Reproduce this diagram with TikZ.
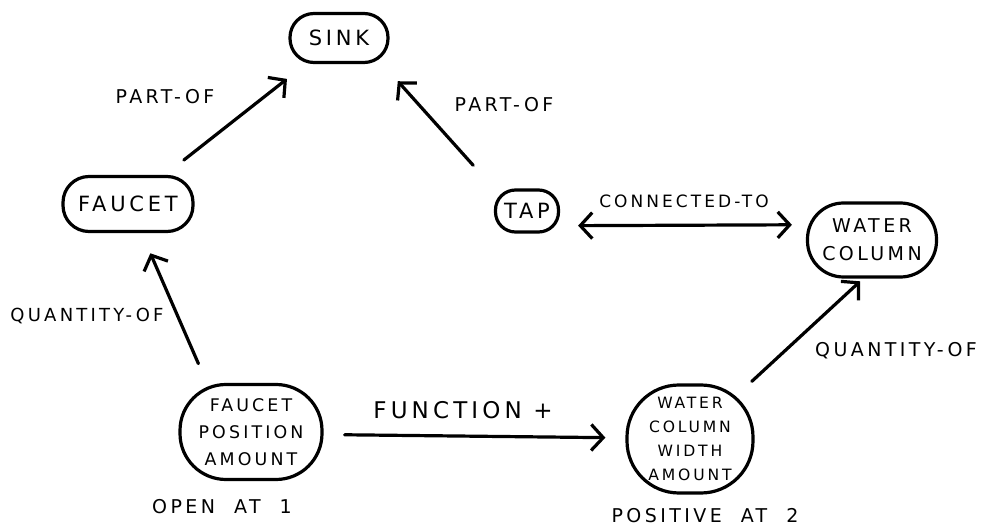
\documentclass[tikz,border=0pt]{standalone}
\usepackage{fontspec}
\setmainfont[LetterSpace=18]{DejaVu Sans}
\usetikzlibrary{arrows.meta}

\begin{document}
\begin{tikzpicture}[x=0.5pt, y=-0.5pt, line join=round, line cap=round, line width=1.6pt,
  blob/.style n args={3}{draw, rectangle, inner sep=0pt, align=center,
    minimum width=#1, minimum height=#2, rounded corners=#3,
    font=\fontsize{10.5}{13}\selectfont},
  tag/.style={inner sep=1pt, font=\fontsize{9.5}{11}\selectfont},
  barb/.tip={Straight Barb[length=6pt,width=13pt]},
  link/.style={-barb},
]
\useasboundingbox (0,0) rectangle (991,529);

% ---------- nodes ----------
\node[blob={49pt}{24.5pt}{12pt}] (sink) at (339,38) {SINK};
\node[blob={65pt}{27.5pt}{13pt}] (faucet) at (128,204) {FAUCET};
\node[blob={31.5pt}{21pt}{10pt}] (tap) at (527,211) {TAP};
\node[blob={64.5pt}{37pt}{18pt}, font=\fontsize{9.5}{14}\selectfont] (wc) at (872,240) {WATER\\COLUMN};
\node[blob={71pt}{47.5pt}{23pt}, font=\fontsize{8.7}{13.5}\selectfont] (fpa) at (251,432) {FAUCET\\POSITION\\AMOUNT};
\node[blob={63pt}{54pt}{26pt}, font=\fontsize{7.8}{12}\selectfont] (wcwa) at (690,439) {WATER\\COLUMN\\WIDTH\\AMOUNT};

% ---------- links ----------
\draw[link, shorten <=12pt, shorten >=12pt] (faucet) -- (sink);
\draw[link, shorten <=15.5pt, shorten >=11.5pt] (tap.north west) -- (sink.-31);
\draw[link, shorten <=10.5pt, shorten >=11pt] (fpa.132) -- (faucet.-65);
\draw[barb-barb, shorten <=9pt, shorten >=7pt] (tap.-24) -- (wc.167);
\draw[link, shorten <=10.5pt, shorten >=10pt] (fpa.-2) -- (wcwa.179);
\draw[link, shorten <=1.5pt, shorten >=2pt] (wcwa.43.5) -- (wc.-103);

% ---------- labels ----------
\node[tag] (partof-l) at (165,97) {PART-OF};
\node[tag] (partof-r) at (504,105) {PART-OF};
\node[tag, font=\fontsize{8.5}{10}\selectfont] (connected) at (684,201) {CONNECTED-TO};
\node[tag, font=\fontsize{9}{11}\selectfont] (qty-l) at (87,316) {QUANTITY-OF};
\node[tag] (qty-r) at (896,351) {QUANTITY-OF};
\node[tag, font=\fontsize{11.5}{13}\selectfont] (function) at (463,410) {FUNCTION +};
\node[tag] (open) at (222,507) {OPEN\quad AT\quad 1};
\node[tag] (positive) at (705,516) {POSITIVE\quad AT\quad 2};

\end{tikzpicture}
\end{document}
